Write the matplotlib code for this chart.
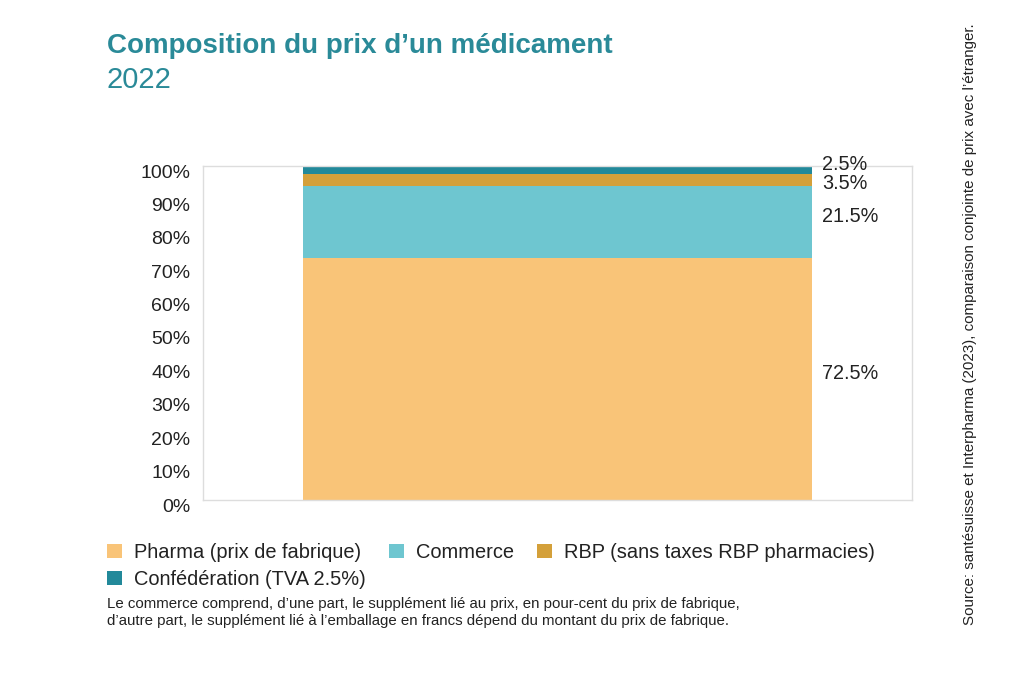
import matplotlib
matplotlib.use("Agg")
import matplotlib.pyplot as plt
from matplotlib.patches import Patch
from matplotlib.transforms import ScaledTranslation

plt.rcParams['font.family'] = ['Liberation Sans', 'DejaVu Sans']

categories = ["2022"]
series_names = ["Pharma (prix de fabrique)", "Commerce", "RBP (sans taxes RBP pharmacies)", "Confédération (TVA 2.5%)"]
series_values = [72.5, 21.5, 3.5, 2.5]
series_colors = ["#F9C478", "#6EC6D0", "#D4A03A", "#22899A"]
value_labels = ["72.5%", "21.5%", "3.5%", "2.5%"]
yticks = [0, 10, 20, 30, 40, 50, 60, 70, 80, 90, 100]
ytick_labels = [f"{v}%" for v in yticks]

title = "Composition du prix d\u2019un médicament"
subtitle = "2022"
note = ("Le commerce comprend, d\u2019une part, le supplément lié au prix, en pour-cent du prix de fabrique,\n"
        "d\u2019autre part, le supplément lié à l\u2019emballage en francs dépend du montant du prix de fabrique.")
source = "Source: santésuisse et Interpharma (2023), comparaison conjointe de prix avec l\u2019étranger."

teal = "#2A8A98"
text_col = "#222222"

fig = plt.figure(figsize=(10.24, 6.83), dpi=100)
ax = fig.add_axes([203/1024, 1-500/683, (912-203)/1024, (500-166)/683])

bottom = 0
label_pos = []
for name, val, col in zip(series_names, series_values, series_colors):
    ax.bar(0, val, bottom=bottom, width=0.719, color=col, label=name)
    label_pos.append(bottom + val / 2 + 1.7)
    bottom += val

# push labels apart (top-down) so they don't overlap
min_gap = 5.6
for i in range(len(label_pos) - 2, -1, -1):
    if label_pos[i + 1] - label_pos[i] < min_gap:
        label_pos[i] = label_pos[i + 1] - min_gap
for y, lab in zip(label_pos, value_labels):
    ax.text(0.373, y, lab, ha='left', va='center', fontsize=14.3, color=text_col, clip_on=False)

ax.set_xlim(-0.5, 0.5)
ax.set_ylim(0, 100)
ax.set_xticks([])
ax.set_yticks(yticks)
ax.set_yticklabels(ytick_labels, fontsize=14, color=text_col)
ax.tick_params(axis='y', length=0, pad=9)
off = ScaledTranslation(0, -5/100, fig.dpi_scale_trans)
for t in ax.get_yticklabels():
    t.set_transform(t.get_transform() + off)
for s in ax.spines.values():
    s.set_color("#dddddd")
    s.set_linewidth(1)

fig.text(107/1024, 1-46/683, title, fontsize=20, fontweight='bold', color=teal, va='center', ha='left')
fig.text(107/1024, 1-80/683, subtitle, fontsize=21, color=teal, va='center', ha='left')

handles = [Patch(facecolor=c, edgecolor='none') for c in series_colors]
order = [0, 3, 1, 2]
leg = fig.legend([handles[i] for i in order], [series_names[i] for i in order], ncol=3,
                 loc='upper left', bbox_to_anchor=(107/1024, 1-543/683), frameon=False,
                 fontsize=14.4, handlelength=0.75, handleheight=0.75, handletextpad=0.6,
                 columnspacing=1.15, labelspacing=0.4, borderaxespad=0, borderpad=0)
for t in leg.get_texts():
    t.set_color(text_col)

fig.text(107/1024, 1-612.5/683, note, fontsize=10.85, color=text_col, va='center', ha='left', linespacing=1.32)
fig.text(970/1024, 1-324/683, source, fontsize=10.9, color=text_col, rotation=90, va='center', ha='center')

fig.savefig("out.png", dpi=100)
